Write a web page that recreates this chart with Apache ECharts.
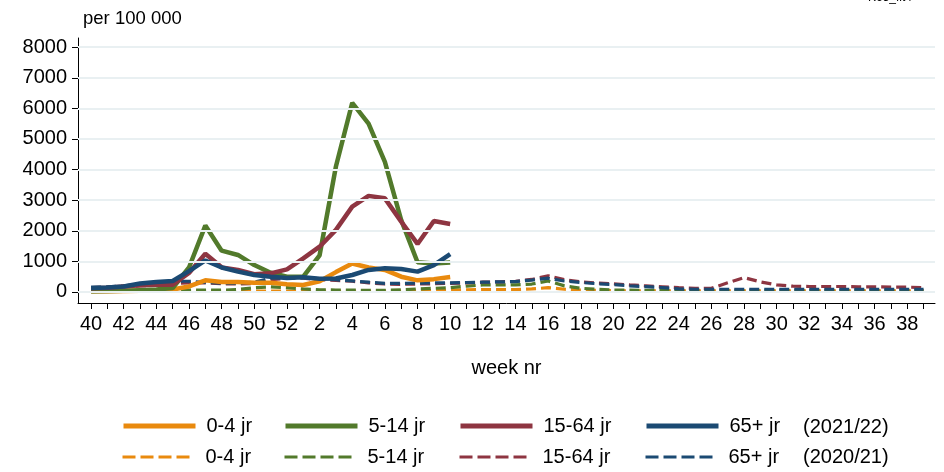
<!DOCTYPE html>
<html>
<head>
<meta charset="utf-8">
<script src="https://cdn.jsdelivr.net/npm/echarts@6/dist/echarts.min.js"></script>
<style>
html,body{margin:0;padding:0;background:#fff;}
#chart{width:944px;height:472px;}
</style>
</head>
<body>
<div id="chart"></div>
<script>
// Week labels (season runs week 40 -> week 39)
const weekLabels = [40,41,42,43,44,45,46,47,48,49,50,51,52,
  1,2,3,4,5,6,7,8,9,10,11,12,13,14,15,16,17,18,19,20,
  21,22,23,24,25,26,27,28,29,30,31,32,33,34,35,36,37,38,39];

const yTicks = [0,1000,2000,3000,4000,5000,6000,7000,8000];

// 2021/22 season (weeks 40 .. 10), per 100 000
const s2122_0_4   = [20,25,30,40,50,80,180,380,330,330,300,300,250,230,350,650,930,800,720,500,380,420,490];
const s2122_5_14  = [20,30,40,60,80,130,800,2170,1350,1210,880,630,500,500,1200,4100,6180,5500,4250,2350,970,930,960];
const s2122_15_64 = [120,140,180,220,240,240,620,1250,805,720,580,610,740,1100,1480,2030,2790,3140,3060,2300,1570,2320,2220];
const s2122_65    = [130,150,180,280,330,360,680,1030,800,665,555,500,460,480,430,440,555,720,775,750,665,880,1240];

// 2020/21 season (weeks 40 .. 39), per 100 000
const s2021_0_4   = [20,20,20,20,25,25,30,30,30,30,30,30,30,
  30,30,30,30,30,30,35,40,50,60,70,80,80,80,100,140,90,60,50,40,40,40,35,35,35,35,35,35,35,35,35,35,35,35,35,35,35,35,35];
const s2021_5_14  = [40,40,45,50,50,55,60,60,60,80,140,170,140,
  100,70,65,60,55,55,70,100,120,140,190,230,230,230,260,360,200,120,90,65,60,55,50,50,45,45,45,45,45,45,45,45,45,45,45,45,45,45,45];
const s2021_15_64 = [120,140,170,200,230,270,300,300,270,260,280,400,450,
  450,400,380,350,300,260,250,260,270,280,300,320,330,350,410,530,400,330,290,270,230,200,170,140,120,120,300,470,330,230,190,180,180,180,170,170,160,160,140];
const s2021_65    = [150,170,200,250,300,350,350,310,290,280,320,450,480,
  480,430,400,360,320,280,280,290,300,300,310,320,330,340,390,450,360,310,270,240,200,175,140,100,90,90,90,90,90,90,90,90,90,90,90,90,90,90,90];

const groupNames = ['0-4 jr','5-14 jr','15-64 jr','65+ jr'];
const colors = ['#e98a0e','#527a2b','#8e3541','#1b4a73'];

const FONT = 'Liberation Sans, Arial, sans-serif';

const toXY = arr => arr.map((v,i)=>[i,v]);

const solidData = [s2122_0_4, s2122_5_14, s2122_15_64, s2122_65];
const dashData = [s2021_0_4, s2021_5_14, s2021_15_64, s2021_65];

const series = [];
// grid lines via markLine on an empty helper series
series.push({
  name:'grid', type:'line', data:[], silent:true,
  markLine:{silent:true, symbol:'none', label:{show:false}, animation:false,
    lineStyle:{color:'#e9f0f2', width:2, type:'solid'},
    data: yTicks.map(v=>({yAxis:v}))}
});
dashData.forEach((d,k)=>{
  series.push({
    name: groupNames[k]+' ', type:'line', data: toXY(d), symbol:'none', z:3,
    lineStyle:{color:colors[k], width:3.2, type:[10,5]}, itemStyle:{color:colors[k]}
  });
});
solidData.forEach((d,k)=>{
  series.push({
    name: groupNames[k], type:'line', data: toXY(d), symbol:'none', z:4,
    lineStyle:{color:colors[k], width:4.5, type:'solid'}, itemStyle:{color:colors[k]}
  });
});

const legendX = [121, 283, 458, 644];
const legends = [];
groupNames.forEach((g,k)=>{
  legends.push({
    data:[g], left: legendX[k], top: 416, padding:0, itemWidth:72, itemHeight:14, selectedMode:false,
    lineStyle:{width:5}, itemStyle:{opacity:0},
    textStyle:{fontFamily:FONT, fontSize:20, color:'#000', padding:[0,0,0,6]}
  });
  legends.push({
    data:[g+' '], left: legendX[k], top: 447, padding:0, itemWidth:72, itemHeight:14, selectedMode:false,
    lineStyle:{width:3, type:[13,5]}, itemStyle:{opacity:0},
    textStyle:{fontFamily:FONT, fontSize:20, color:'#000', padding:[0,0,0,6]}
  });
});

const chart = echarts.init(document.getElementById('chart'), null, {renderer:'canvas'});
chart.setOption({
  animation:false,
  backgroundColor:'#fff',
  grid:{left:78, right:9, top:38, bottom:169},
  xAxis:{
    type:'value', min:-0.8, max:51.7,
    axisLine:{show:true, onZero:false, lineStyle:{color:'#000', width:1}},
    axisTick:{show:true, length:6, lineStyle:{color:'#000'}, customValues: weekLabels.map((w,i)=>i)},
    axisLabel:{show:true, margin:11, fontFamily:FONT, fontSize:20, color:'#000',
      customValues: weekLabels.map((w,i)=>i).filter(i=>i%2===0),
      formatter: v => String(weekLabels[v])},
    splitLine:{show:false},
    name:'week nr', nameLocation:'middle', nameGap:55,
    nameTextStyle:{fontFamily:FONT, fontSize:20, color:'#000'}
  },
  yAxis:{
    type:'value', min:-360, max:8300,
    axisLine:{show:true, onZero:false, lineStyle:{color:'#000', width:1}},
    axisTick:{show:true, length:6, lineStyle:{color:'#000'}, customValues: yTicks},
    axisLabel:{show:true, margin:11, fontFamily:FONT, fontSize:20, color:'#000', customValues: yTicks,
      formatter: v => String(v)},
    splitLine:{show:false}
  },
  legend: legends,
  graphic:[
    {type:'text', left:83, top:9, style:{text:'per 100 000', font:'18.5px '+FONT, fill:'#000'}},
    {type:'text', left:803, top:417, style:{text:'(2021/22)', font:'20px '+FONT, fill:'#000'}},
    {type:'text', left:803, top:447, style:{text:'(2020/21)', font:'20px '+FONT, fill:'#000'}},
    {type:'text', right:32, top:-8, style:{text:'K65_fit4', font:'12px '+FONT, fill:'#000'}}
  ],
  series: series
});
</script>
</body>
</html>
